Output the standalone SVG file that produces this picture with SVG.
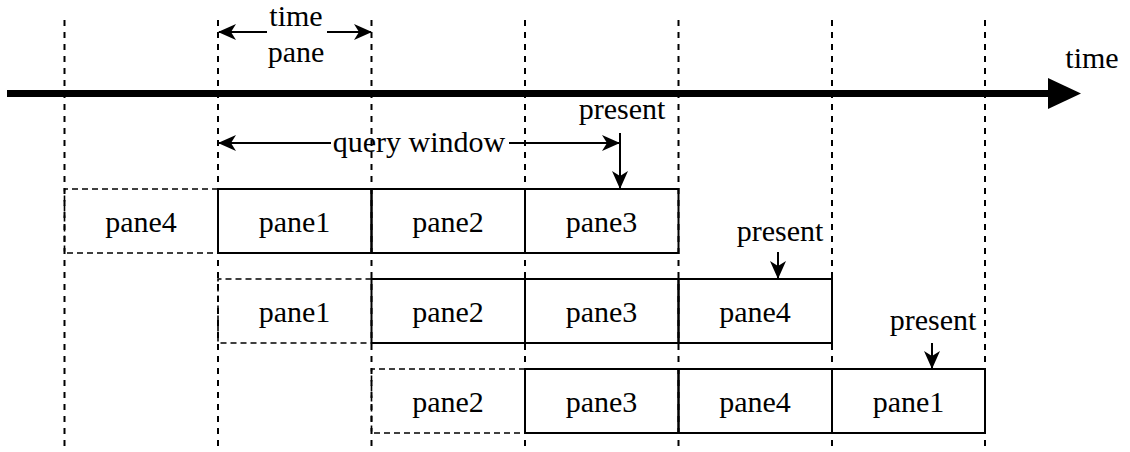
<svg xmlns="http://www.w3.org/2000/svg" width="1130" height="452" viewBox="0 0 1130 452">
<style>
.t{font-family:'Liberation Serif','Times New Roman',Times,serif;font-size:30px;fill:#000;text-anchor:middle}
.grid{stroke:#000;stroke-width:2;stroke-dasharray:6 6;fill:none}
.solid{stroke:#000;stroke-width:2;fill:none}
.dash{stroke:#000;stroke-width:1.6;stroke-dasharray:6 4;fill:none}
.arr{stroke:#000;stroke-width:2;fill:none}
</style>
<defs>
<marker id="ah" markerUnits="userSpaceOnUse" viewBox="0 0 18 16" markerWidth="18" markerHeight="16" refX="17" refY="8" orient="auto-start-reverse">
<path d="M18,8 L0,0 L5,8 L0,16 Z" fill="#000"/>
</marker>
</defs>
<rect width="1130" height="452" fill="#fff"/>
<g id="gridlines">
<line class="grid" x1="64.5" y1="20" x2="64.5" y2="452"/>
<line class="grid" x1="218" y1="20" x2="218" y2="452"/>
<line class="grid" x1="371.5" y1="20" x2="371.5" y2="452"/>
<line class="grid" x1="525" y1="20" x2="525" y2="452"/>
<line class="grid" x1="678.5" y1="20" x2="678.5" y2="452"/>
<line class="grid" x1="832" y1="20" x2="832" y2="452"/>
<line class="grid" x1="985" y1="20" x2="985" y2="452"/>
</g>
<g font-family="Liberation Serif, Times New Roman, serif" font-size="30">
<g id="time-axis">
<line x1="7" y1="93.5" x2="1052" y2="93.5" stroke="#000" stroke-width="7"/>
<polygon points="1048,78 1081,93.5 1048,109" fill="#000"/>
<text class="t" x="1092" y="68">time</text>
</g>
<g id="time-pane">
<text class="t" x="296" y="26">time</text>
<text class="t" x="296" y="62">pane</text>
</g>
<g id="query-window">
<text class="t" x="419" y="152">query window</text>
</g>
<g id="row1">
<g id="r1-pane4"><path class="dash" d="M218,189 H64.5 V253 H218"/><text class="t" x="141" y="232">pane4</text></g>
<g id="r1-pane1"><rect class="solid" x="218" y="189" width="153.5" height="64"/><text class="t" x="294.5" y="232">pane1</text></g>
<g id="r1-pane2"><rect class="solid" x="371.5" y="189" width="153.5" height="64"/><text class="t" x="448" y="232">pane2</text></g>
<g id="r1-pane3"><rect class="solid" x="525" y="189" width="153.5" height="64"/><text class="t" x="601.5" y="232">pane3</text></g>
<g id="r1-present"><text class="t" x="622" y="119">present</text></g>
</g>
<g id="row2">
<g id="r2-pane1"><path class="dash" d="M371.5,279 H218 V343 H371.5"/><text class="t" x="294.5" y="322">pane1</text></g>
<g id="r2-pane2"><rect class="solid" x="371.5" y="279" width="153.5" height="64"/><text class="t" x="448" y="322">pane2</text></g>
<g id="r2-pane3"><rect class="solid" x="525" y="279" width="153.5" height="64"/><text class="t" x="601.5" y="322">pane3</text></g>
<g id="r2-pane4"><rect class="solid" x="678.5" y="279" width="153.5" height="64"/><text class="t" x="755" y="322">pane4</text></g>
<g id="r2-present"><text class="t" x="780" y="241">present</text></g>
</g>
<g id="row3">
<g id="r3-pane2"><path class="dash" d="M525,369 H371.5 V433 H525"/><text class="t" x="448" y="412">pane2</text></g>
<g id="r3-pane3"><rect class="solid" x="525" y="369" width="153.5" height="64"/><text class="t" x="601.5" y="412">pane3</text></g>
<g id="r3-pane4"><rect class="solid" x="678.5" y="369" width="153.5" height="64"/><text class="t" x="755" y="412">pane4</text></g>
<g id="r3-pane1"><rect class="solid" x="832" y="369" width="153" height="64"/><text class="t" x="908.5" y="412">pane1</text></g>
<g id="r3-present"><text class="t" x="933" y="330">present</text></g>
</g>
</g>
<g id="connectors">
<line class="arr" x1="267" y1="32" x2="219" y2="32" marker-end="url(#ah)"/>
<line class="arr" x1="327" y1="32" x2="371" y2="32" marker-end="url(#ah)"/>
<line class="arr" x1="331" y1="143" x2="219" y2="143" marker-end="url(#ah)"/>
<line class="arr" x1="509" y1="143" x2="619" y2="143" marker-end="url(#ah)"/>
<line class="arr" x1="620" y1="133" x2="620" y2="188" marker-end="url(#ah)"/>
<line class="arr" x1="778" y1="252" x2="778" y2="278" marker-end="url(#ah)"/>
<line class="arr" x1="932" y1="343" x2="932" y2="368" marker-end="url(#ah)"/>
</g>
</svg>
